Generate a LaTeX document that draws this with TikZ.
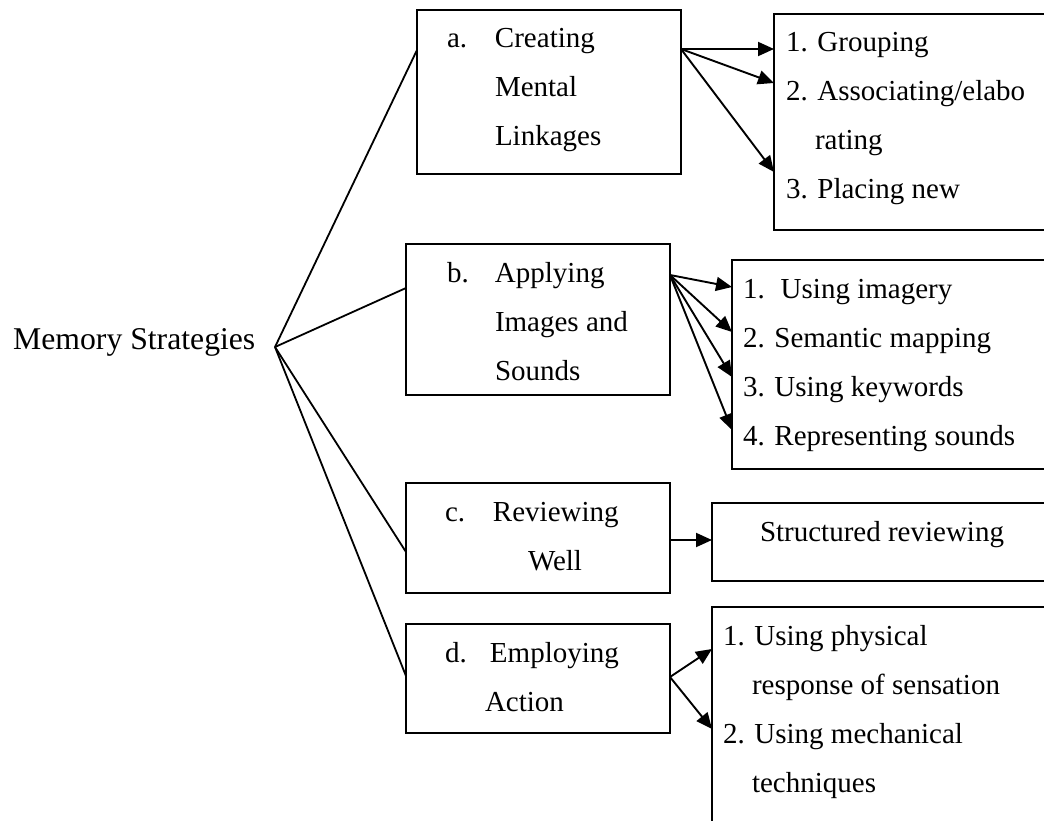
\documentclass[tikz,border=0pt]{standalone}
\usepackage{fontspec}
\setmainfont{Liberation Serif}
\usetikzlibrary{arrows.meta}
\newcommand{\boxtext}[3]{\parbox[c][#2][t]{#1}{\rule{0pt}{38pt}#3}}

\begin{document}
\begin{tikzpicture}[x=1pt, y=-1pt,
  entry/.style={draw, line width=2pt, inner sep=0pt, outer sep=0pt, anchor=north west, font=\fontsize{29}{49}\selectfont},
  branch/.style={line width=1.8pt},
  leaf/.style={line width=1.9pt, -{Triangle[length=16pt,width=14pt]}}]

  \useasboundingbox (0,0) rectangle (1044,821);
  \clip (0,0) rectangle (1044,821);

  \node[anchor=base west, inner sep=0pt, font=\fontsize{31.7}{38}\selectfont] (memory) at (13,349) {Memory Strategies};
  \coordinate (hub) at (275,347);

  \node[entry] (mental) at (417,10) {\boxtext{264pt}{164pt}{\hspace*{30pt}\makebox[48pt][l]{a.}Creating\\ \hspace*{78pt}Mental\\ \hspace*{78pt}Linkages}};
  \node[entry] (images) at (406,244) {\boxtext{264pt}{151pt}{\hspace*{41pt}\makebox[48pt][l]{b.}Applying\\ \hspace*{89pt}Images and\\ \hspace*{89pt}Sounds}};
  \node[entry] (review) at (406,483) {\boxtext{264pt}{110pt}{\hspace*{39pt}\makebox[48pt][l]{c.}Reviewing\\ \hspace*{122pt}Well}};
  \node[entry] (action) at (406,624) {\boxtext{264pt}{109pt}{\hspace*{39pt}\makebox[45pt][l]{d.}Employing\\ \hspace*{79pt}Action}};

  \node[entry] (linkage) at (774,14) {\boxtext{300pt}{216pt}{\hspace*{12pt}1. Grouping\\ \hspace*{12pt}2. Associating/elabo\\ \hspace*{41pt}rating\\ \hspace*{12pt}3. Placing new}};
  \node[entry] (imagery) at (732,260) {\boxtext{330pt}{209pt}{\hspace*{11pt}1.\hspace{16pt}Using imagery\\ \hspace*{11pt}2. Semantic mapping\\ \hspace*{11pt}3. Using keywords\\ \hspace*{11pt}4. Representing sounds}};
  \node[entry] (reviewing) at (712,503) {\boxtext{350pt}{78pt}{\hspace*{48pt}Structured reviewing}};
  \node[entry] (physical) at (712,607) {\boxtext{350pt}{240pt}{\hspace*{11pt}1. Using physical\\ \hspace*{40pt}response of sensation\\ \hspace*{11pt}2. Using mechanical\\ \hspace*{40pt}techniques}};

  \draw[branch] (hub) -- ([yshift=-40pt]mental.north west);
  \draw[branch] (hub) -- ([yshift=-44pt]images.north west);
  \draw[branch] (hub) -- ([yshift=-69pt]review.north west);
  \draw[branch] (hub) -- ([yshift=-52pt]action.north west);

  \foreach \d in {35,69,158} \draw[leaf] ([yshift=-39pt]mental.north east) -- ([yshift=-\d*1pt]linkage.north west);
  \foreach \d in {27,72,117,170} \draw[leaf] ([yshift=-31pt]images.north east) -- ([yshift=-\d*1pt]imagery.north west);
  \draw[leaf] ([yshift=-57pt]review.north east) -- ([yshift=-37pt]reviewing.north west);
  \foreach \d in {42,122} \draw[leaf] ([yshift=-53pt]action.north east) -- ([yshift=-\d*1pt]physical.north west);

\end{tikzpicture}
\end{document}
